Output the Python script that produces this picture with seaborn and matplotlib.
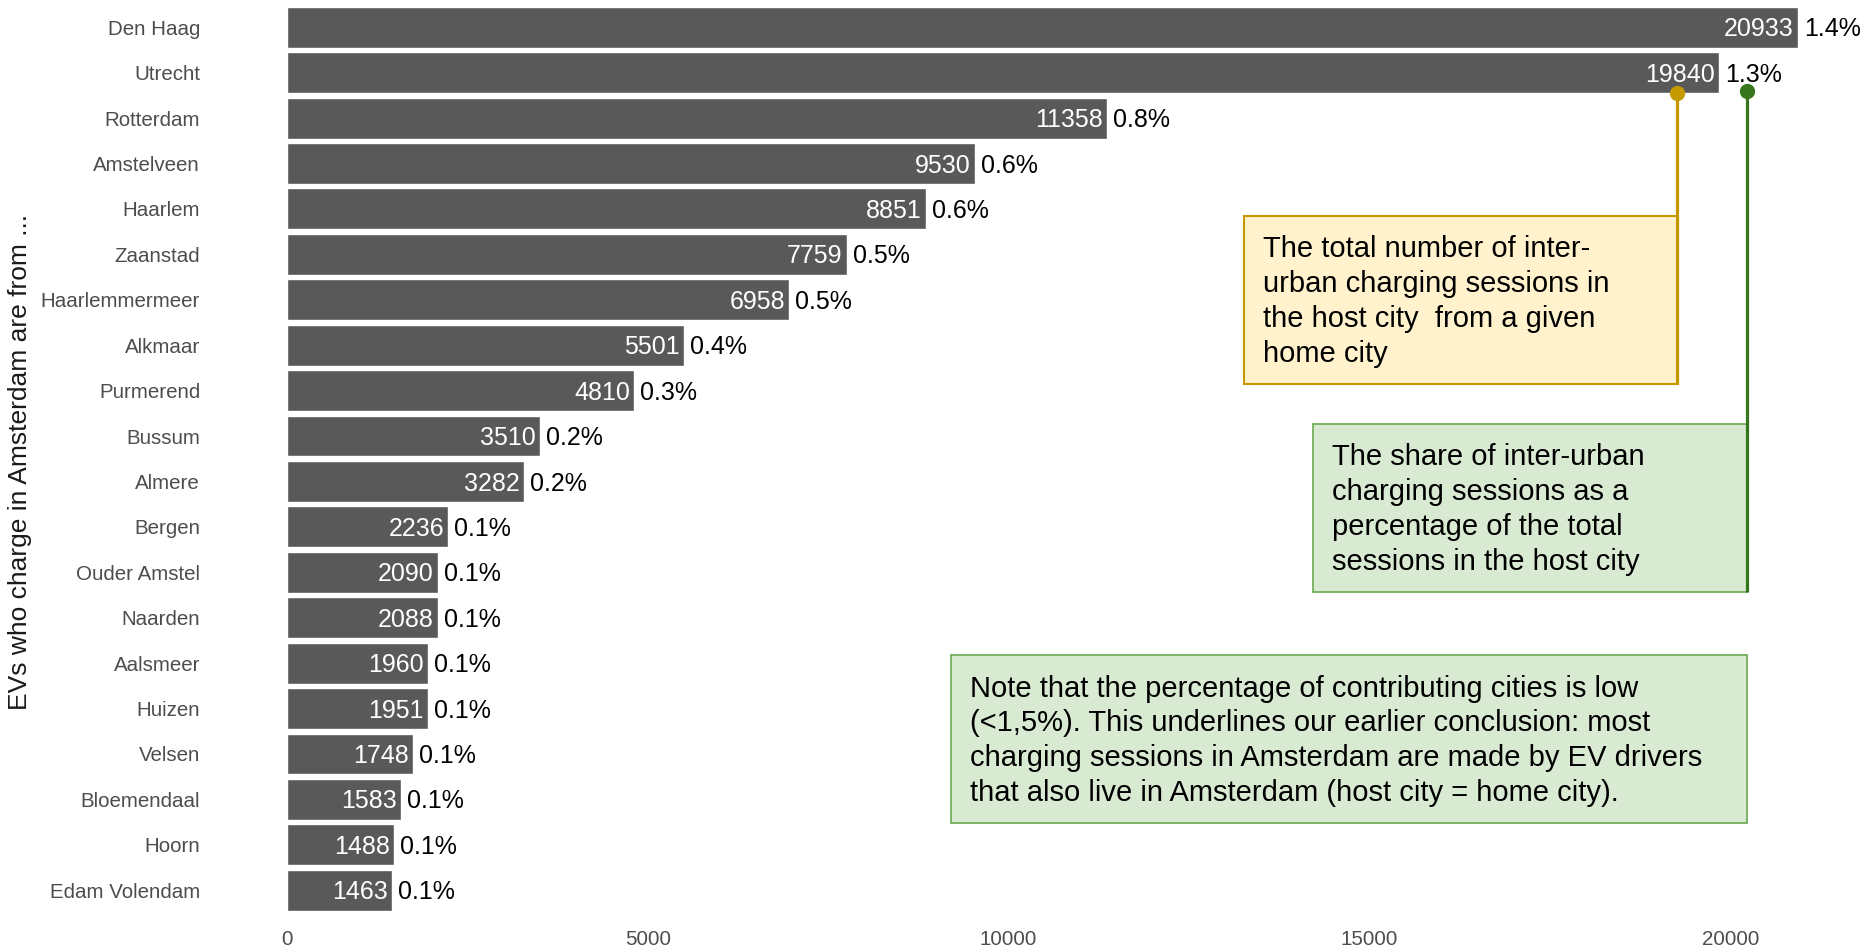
import matplotlib
matplotlib.use("Agg")
import matplotlib.pyplot as plt
from matplotlib.patches import Rectangle
import pandas as pd
import seaborn as sns

# Home cities of EVs charging in Amsterdam
cities = ["Den Haag", "Utrecht", "Rotterdam", "Amstelveen", "Haarlem", "Zaanstad",
          "Haarlemmermeer", "Alkmaar", "Purmerend", "Bussum", "Almere", "Bergen",
          "Ouder Amstel", "Naarden", "Aalsmeer", "Huizen", "Velsen", "Bloemendaal",
          "Hoorn", "Edam Volendam"]
sessions = [20933, 19840, 11358, 9530, 8851, 7759, 6958, 5501, 4810, 3510, 3282,
            2236, 2090, 2088, 1960, 1951, 1748, 1583, 1488, 1463]
share_pct = [1.4, 1.3, 0.8, 0.6, 0.6, 0.5, 0.5, 0.4, 0.3, 0.2, 0.2, 0.1, 0.1, 0.1,
             0.1, 0.1, 0.1, 0.1, 0.1, 0.1]
x_ticks = [0, 5000, 10000, 15000, 20000]

note_total = ("The total number of inter-\nurban charging sessions in\n"
              "the host city  from a given\nhome city")
note_share = ("The share of inter-urban\ncharging sessions as a\n"
              "percentage of the total\nsessions in the host city")
note_low = ("Note that the percentage of contributing cities is low\n"
            "(<1,5%). This underlines our earlier conclusion: most\n"
            "charging sessions in Amsterdam are made by EV drivers\n"
            "that also live in Amsterdam (host city = home city).")

df = pd.DataFrame({"city": cities, "sessions": sessions, "share": share_pct})

sns.set_theme(style="white")
plt.rcParams["font.family"] = ["Liberation Sans", "DejaVu Sans"]

W, H = 1874, 949
fig = plt.figure(figsize=(W / 100, H / 100), dpi=100)
ax = fig.add_axes([211.3 / W, 1 - 917.5 / H, 1662.0 / W, 917.5 / H])

BAR = "#595959"
sns.barplot(data=df, x="sessions", y="city", orient="h", color=BAR,
            width=0.9, saturation=1, ax=ax)

n = len(cities)
ax.set_xlim(-1046.65, 21979.65)
ax.set_ylim(n - 1 + 0.6, -0.6)
for s in ax.spines.values():
    s.set_visible(False)
ax.grid(False)
ax.set_xticks(x_ticks)
ax.set_xticklabels([str(t) for t in x_ticks])
ax.tick_params(axis="x", length=0, pad=9, labelsize=14.8, labelcolor="#4d4d4d")
ax.tick_params(axis="y", length=0, pad=8, labelsize=14.8, labelcolor="#4d4d4d")
ax.set_xlabel("")
ax.set_ylabel("")
fig.text(20 / W, 1 - 462 / H, "EVs who charge in Amsterdam are from ...",
         rotation=90, ha="center", va="center", fontsize=19, color="#1a1a1a")

# value labels: count inside the bar, share right after it
for i, (v, p) in enumerate(zip(sessions, share_pct)):
    ax.annotate(str(v), xy=(v, i), xytext=(-3, -1.5), textcoords="offset points",
                ha="right", va="center", fontsize=18, color="white")
    ax.annotate(f"{p:.1f}%", xy=(v, i), xytext=(4.3, -1.5), textcoords="offset points",
                ha="left", va="center", fontsize=18, color="black")

# callout boxes
GOLD_LINE, GOLD_FILL = "#c49a00", "#fff2cc"
GREEN_LINE, GREEN_EDGE, GREEN_FILL = "#38761d", "#6aa84f", "#d9ead3"
TEXT_PAD = 263


def callout(x0, x1, y0, y1, text, fill, edge, lw):
    ax.add_patch(Rectangle((x0, y0), x1 - x0, y1 - y0, facecolor=fill,
                           edgecolor=edge, linewidth=lw, zorder=3))
    ax.text(x0 + TEXT_PAD, (y0 + y1) / 2 + 0.04, text, ha="left", va="center",
            fontsize=21, color="black", linespacing=1.31, zorder=4)


callout(13261, 19276, 4.151, 7.851, note_total, GOLD_FILL, GOLD_LINE, 1.5)
callout(14217, 20230, 8.731, 12.43, note_share, GREEN_FILL, GREEN_EDGE, 1.2)
callout(9202, 20230, 13.82, 17.52, note_low, GREEN_FILL, GREEN_EDGE, 1.2)

# leader lines from the Utrecht labels down to the boxes
ax.plot([19263, 19263], [1.442, 7.851], color=GOLD_LINE, lw=2.3, zorder=5,
        solid_capstyle="butt")
ax.plot([19263], [1.442], "o", color=GOLD_LINE, ms=10, zorder=6)
ax.plot([20230, 20230], [1.398, 12.43], color=GREEN_LINE, lw=2.3, zorder=5,
        solid_capstyle="butt")
ax.plot([20230], [1.398], "o", color=GREEN_LINE, ms=10, zorder=6)

fig.savefig("out.png", dpi=100)
